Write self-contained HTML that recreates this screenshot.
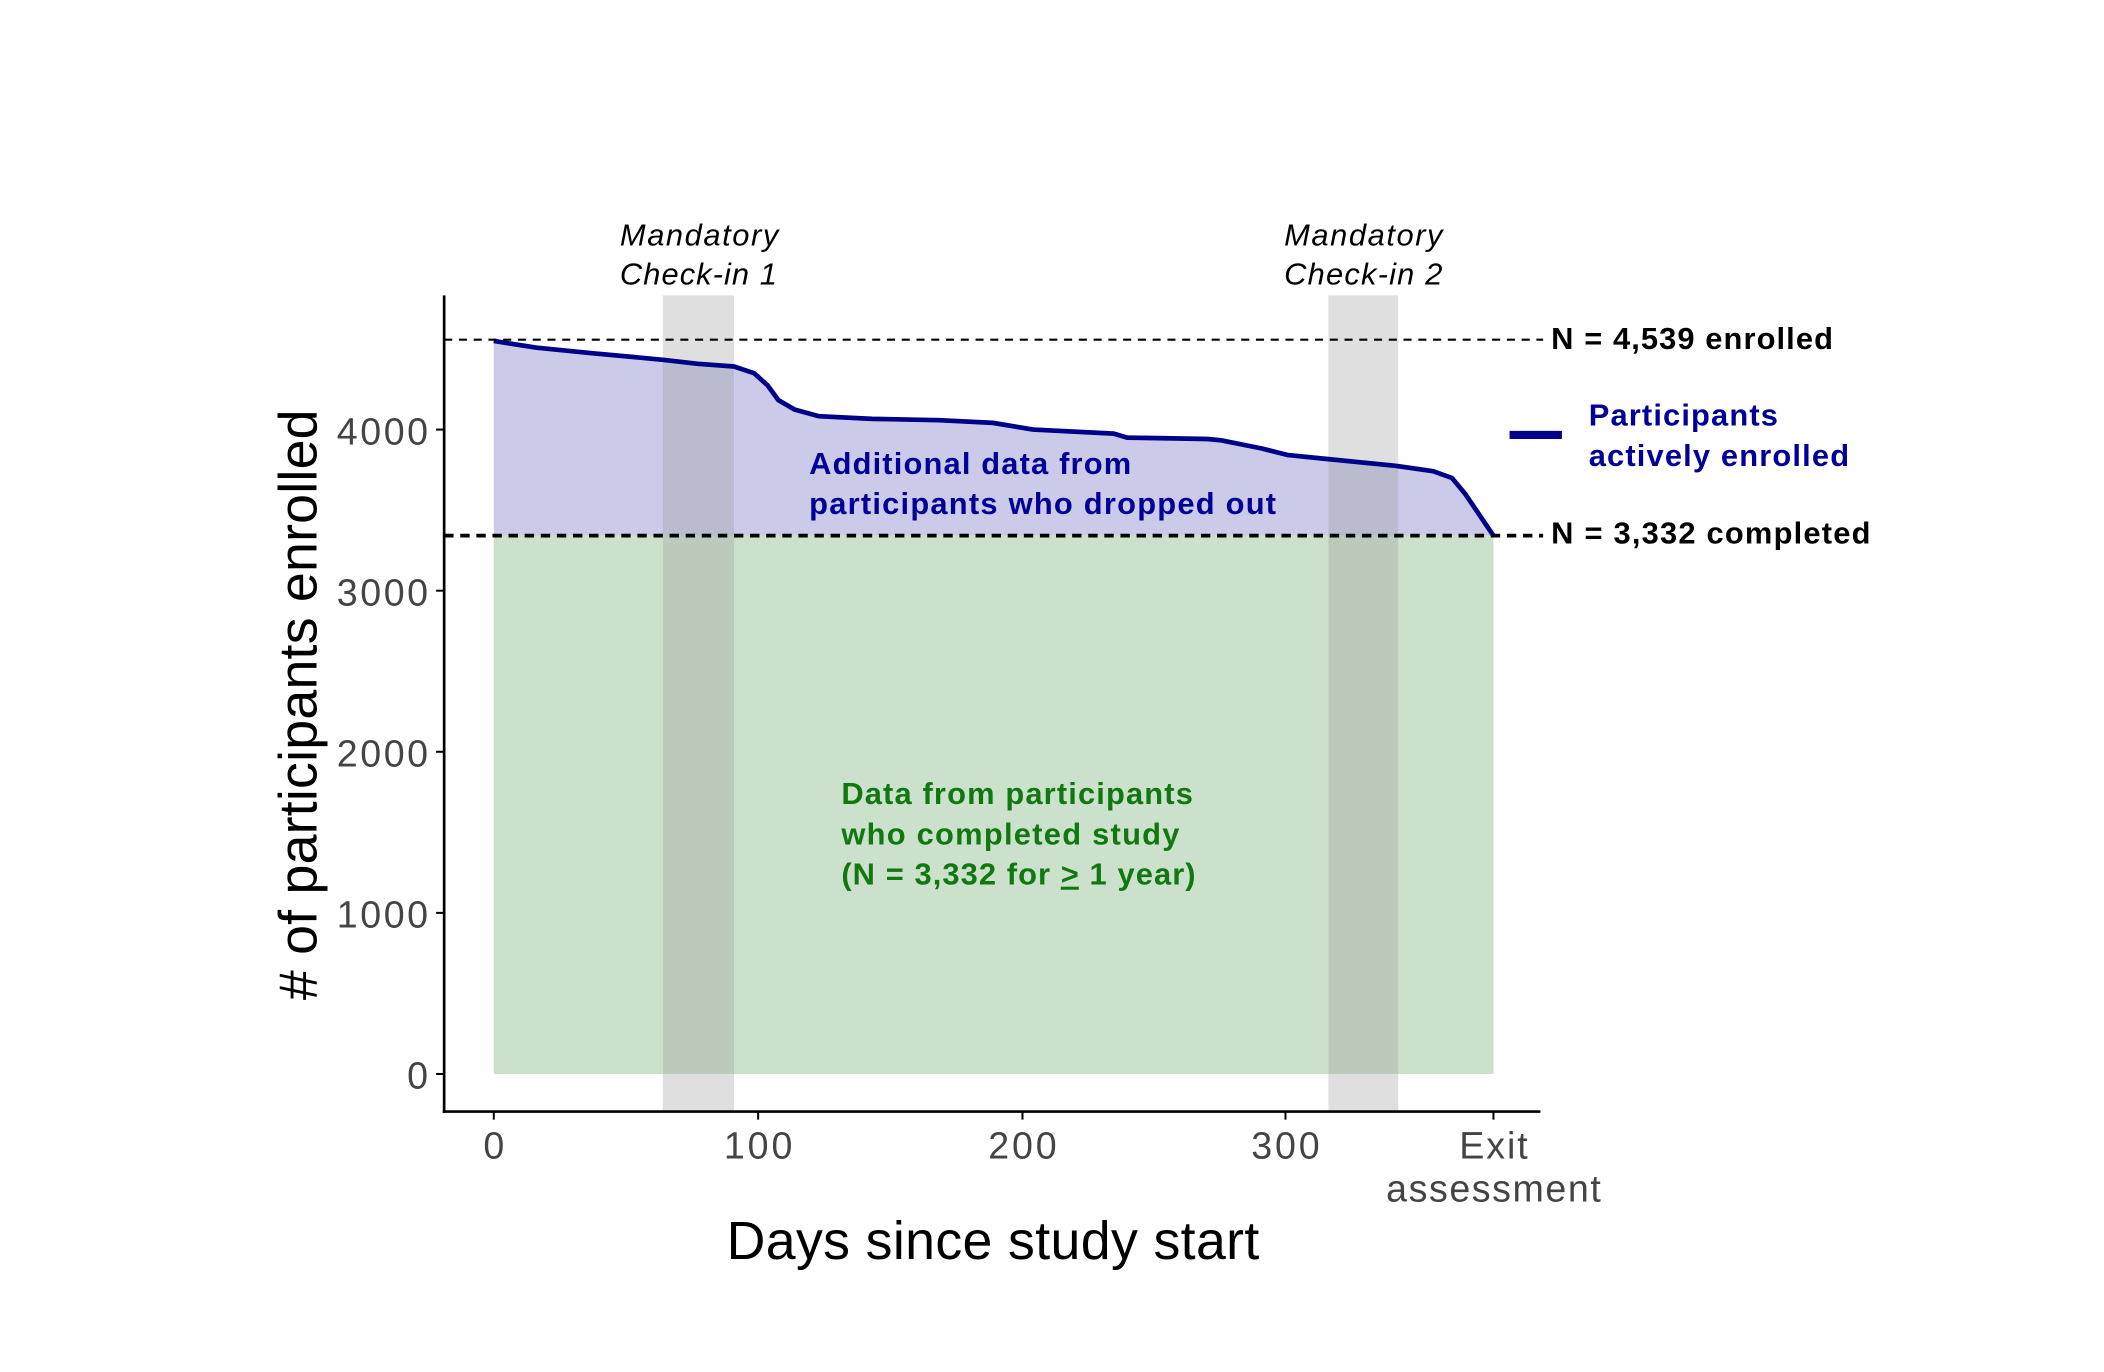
<!DOCTYPE html>
<html><head><meta charset="utf-8"><style>
html,body{margin:0;padding:0;background:#fff;}
svg{display:block;}
text{font-family:"Liberation Sans",Arial,sans-serif;}
</style></head><body>
<svg width="2104" height="1372" viewBox="0 0 1568 1022" preserveAspectRatio="none" xmlns="http://www.w3.org/2000/svg">
<rect width="1568" height="1022" fill="#fff"/>
<rect x="368" y="399" width="745" height="401" fill="#cce1cc"/>
<path d="M368,254 L400,259 L440,263 L494,268 L520,271 L547,273 L562,278 L572,287 L580,298 L592,305 L610,310 L650,312 L700,313 L740,315 L770,320 L830,323 L840,326 L900,327 L910,328 L940,334 L960,339 L990,342 L1040,347 L1068,351 L1082,356 L1092,368 L1113,399 L368,399 Z" fill="#cbcbe9"/>
<rect x="494" y="220" width="53" height="608" fill="#9b9b9b" fill-opacity="0.32"/>
<rect x="990" y="220" width="52" height="608" fill="#9b9b9b" fill-opacity="0.32"/>
<path d="M368,254 L400,259 L440,263 L494,268 L520,271 L547,273 L562,278 L572,287 L580,298 L592,305 L610,310 L650,312 L700,313 L740,315 L770,320 L830,323 L840,326 L900,327 L910,328 L940,334 L960,339 L990,342 L1040,347 L1068,351 L1082,356 L1092,368 L1113,399" fill="none" stroke="#000088" stroke-width="3.5" stroke-linejoin="round"/>
<line x1="331" y1="253" x2="1150" y2="253" stroke="#000" stroke-width="1.6" stroke-dasharray="6,5"/>
<line x1="331" y1="399" x2="1150" y2="399" stroke="#000" stroke-width="2.8" stroke-dasharray="7,5"/>
<line x1="331" y1="220" x2="331" y2="829" stroke="#000" stroke-width="2"/>
<line x1="330" y1="828" x2="1148" y2="828" stroke="#000" stroke-width="2"/>
<g stroke="#000" stroke-width="1.5">
<line x1="325" y1="800" x2="331" y2="800"/><line x1="325" y1="680" x2="331" y2="680"/><line x1="325" y1="560" x2="331" y2="560"/><line x1="325" y1="440" x2="331" y2="440"/><line x1="325" y1="320" x2="331" y2="320"/>
<line x1="368" y1="828" x2="368" y2="834"/><line x1="565" y1="828" x2="565" y2="834"/><line x1="762" y1="828" x2="762" y2="834"/><line x1="958" y1="828" x2="958" y2="834"/><line x1="1113" y1="828" x2="1113" y2="834"/>
</g>
<g font-size="28" fill="#444" text-anchor="end">
<text x="319" y="811">0</text><text x="319" y="691" textLength="68">1000</text><text x="319" y="571" textLength="68">2000</text><text x="319" y="451" textLength="68">3000</text><text x="319" y="331" textLength="68">4000</text>
</g>
<g font-size="28" fill="#444" text-anchor="middle">
<text x="368" y="863">0</text><text x="565" y="863" textLength="51">100</text><text x="762" y="863" textLength="51">200</text><text x="958" y="863" textLength="51">300</text><text x="1113" y="863" textLength="51">Exit</text><text x="1113" y="895" textLength="160">assessment</text>
</g>
<text x="740" y="938" font-size="40" text-anchor="middle" fill="#000" textLength="397">Days since study start</text>
<text transform="translate(236,525) rotate(-90)" font-size="40" text-anchor="middle" fill="#000" textLength="440"># of participants enrolled</text>
<g font-size="23" font-style="italic" fill="#000">
<text x="462" y="183" textLength="118">Mandatory</text><text x="462" y="212" textLength="117">Check-in 1</text>
<text x="957" y="183" textLength="118">Mandatory</text><text x="957" y="212" textLength="118">Check-in 2</text>
</g>
<g font-size="23" font-weight="bold" fill="#000">
<text x="1156" y="260" textLength="210">N = 4,539 enrolled</text>
<text x="1156" y="405" textLength="238">N = 3,332 completed</text>
</g>
<line x1="1125" y1="324" x2="1164" y2="324" stroke="#000088" stroke-width="6"/>
<g font-size="23" font-weight="bold" fill="#000099">
<text x="1184" y="317" textLength="141">Participants</text><text x="1184" y="347" textLength="194">actively enrolled</text>
<text x="603" y="353" textLength="240">Additional data from</text><text x="603" y="383" textLength="348">participants who dropped out</text>
</g>
<g font-size="23" font-weight="bold" fill="#117711">
<text x="627" y="599" textLength="262">Data from participants</text><text x="627" y="629" textLength="252">who completed study</text><text x="627" y="659" textLength="264">(N = 3,332 for <tspan text-decoration="underline">&gt;</tspan> 1 year)</text>
</g>
</svg>
</body></html>
